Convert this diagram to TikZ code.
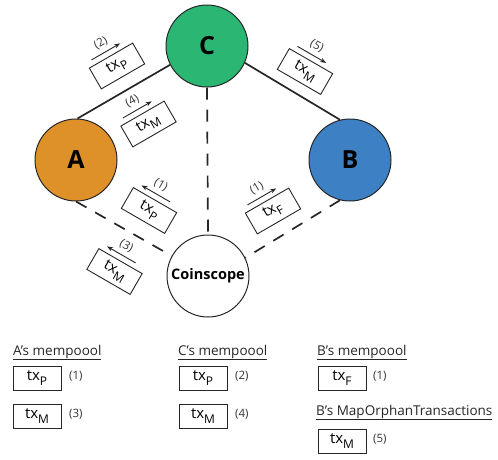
\documentclass[tikz,border=0pt]{standalone}
\usepackage{fontspec}
\setmainfont{Open Sans}
\usetikzlibrary{calc}
\usetikzlibrary{arrows.meta}

\definecolor{peerA}{RGB}{222,145,41}
\definecolor{peerB}{RGB}{62,128,196}
\definecolor{peerC}{RGB}{44,182,116}

\begin{document}
\begin{tikzpicture}[x=1pt, y=-1pt,
  peer/.style={circle, draw=black!85, line width=1pt, minimum size=82pt, inner sep=0, font=\fontsize{25}{25}\selectfont\bfseries},
  txbox/.style={draw=black!85, line width=0.9pt, minimum width=50pt, minimum height=24pt, inner sep=0, font=\fontsize{15}{15}\selectfont},
  link/.style={line width=1.7pt, black!85},
  probe/.style={line width=1.7pt, black!85, dash pattern=on 12pt off 10pt},
  num/.style={font=\fontsize{11.5}{11.5}\selectfont, inner sep=0, black!80},
  head/.style={font=\fontsize{13.5}{13.5}\selectfont, anchor=base west, inner sep=0, black!85},
  fwd/.style={line width=0.9pt, black!85, -{Stealth[length=6,width=4.5]}},
  bwd/.style={line width=0.9pt, black!85, {Stealth[length=6,width=4.5]}-}]
\newcommand{\txsub}[1]{tx\raisebox{-0.33em}{\fontsize{12}{12}\selectfont #1}}
\newcommand{\msgbox}[7]{%
  \begin{scope}[shift={(#2,#3)}, rotate=#4, transform shape]
    \node (#1) [txbox] at (0,0) {\txsub{#5}};
    \coordinate (#1l) at (-19,-18);
    \coordinate (#1r) at (14,-18);
    \draw[#7] (#1l) -- (#1r);
    \node (#1n) [num] at (-2.5,-28) {(#6)};
  \end{scope}}
\useasboundingbox (0,0) rectangle (498,459);

% peers
\node (C) [peer, fill=peerC] at (207,46) {C};
\node (A) [peer, fill=peerA] at (76,160) {A};
\node (B) [peer, fill=peerB] at (350,160) {B};
\node (coin) [peer, fill=white, font=\fontsize{14.5}{14.5}\selectfont\bfseries] at (208,276) {Coinscope};

% links
\draw[link] (A.88) -- (C.207);
\draw[link] (C.336) -- (B.104);
\draw[probe] (C.south) -- (coin.north);
\draw[probe] (A.south) -- (coin.151);
\draw[probe] (B.256) -- (coin.26);

% messages
\msgbox{mtwo}{117}{66}{30}{P}{2}{fwd}
\msgbox{mfour}{148.5}{124}{30}{M}{4}{fwd}
\msgbox{mfive}{305}{71.5}{-30}{M}{5}{fwd}
\msgbox{moneA}{149}{210.5}{-30}{P}{1}{bwd}
\msgbox{mthree}{114.5}{271.5}{-30}{M}{3}{bwd}
\msgbox{moneB}{273}{211}{30}{F}{1}{fwd}

% mempools
\node (poolA) [head] at (13,355) {\underline{A’s mempoool}};
\node (poolC) [head] at (178,355) {\underline{C’s mempoool}};
\node (poolB) [head] at (317,355) {\underline{B’s mempoool}};
\node (orphB) [head] at (316,415) {\underline{B’s MapOrphanTransactions}};
\node (aP) [txbox, minimum width=48pt] at (37,378) {\txsub{P}};
\node (aM) [txbox, minimum width=48pt] at (37,416) {\txsub{M}};
\node (cP) [txbox, minimum width=48pt] at (203,378) {\txsub{P}};
\node (cM) [txbox, minimum width=48pt] at (203,416) {\txsub{M}};
\node (bF) [txbox, minimum width=48pt] at (342,378) {\txsub{F}};
\node (bM) [txbox, minimum width=48pt] at (342,441.5) {\txsub{M}};
\node (aPn) [num, anchor=west] at (69,376) {(1)};
\node (aMn) [num, anchor=west] at (69,414) {(3)};
\node (cPn) [num, anchor=west] at (235,376) {(2)};
\node (cMn) [num, anchor=west] at (235,414) {(4)};
\node (bFn) [num, anchor=west] at (373,376) {(1)};
\node (bMn) [num, anchor=west] at (373,439) {(5)};
\end{tikzpicture}
\end{document}
